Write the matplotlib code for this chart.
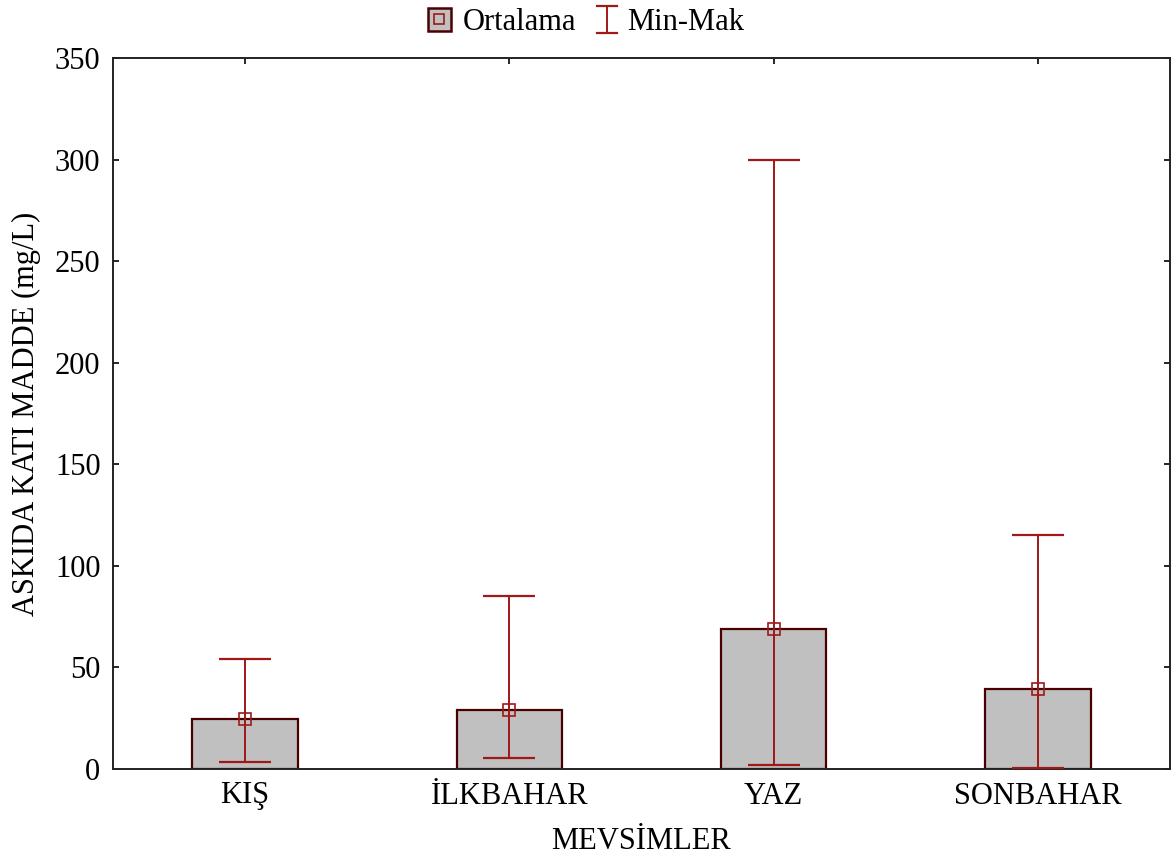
import matplotlib
matplotlib.use("Agg")
import matplotlib.pyplot as plt
from matplotlib.patches import Patch
from matplotlib.lines import Line2D
from matplotlib.legend_handler import HandlerBase

categories = ["KIŞ", "İLKBAHAR", "YAZ", "SONBAHAR"]
means = [24.5, 29.1, 68.8, 39.5]
mins = [3.5, 5.5, 2.0, 0.5]
maxs = [54.0, 85.0, 300.0, 115.0]
yticks = [0, 50, 100, 150, 200, 250, 300, 350]

plt.rcParams['font.family'] = ['Liberation Serif', 'DejaVu Serif']

fig = plt.figure(figsize=(11.76, 8.66), dpi=100)
ax = fig.add_axes([113/1176, 97/866, 1057/1176, 711/866])

x = list(range(len(categories)))
bar_face = "#c0c0c0"
bar_edge = "#4a0000"
err_col = "#a01818"

ax.bar(x, means, width=0.4, color=bar_face, edgecolor=bar_edge, linewidth=1.6, zorder=2)
lower = [m - lo for m, lo in zip(means, mins)]
upper = [hi - m for m, hi in zip(means, maxs)]
ax.errorbar(x, means, yerr=[lower, upper], fmt='none', ecolor=err_col,
            elinewidth=1.4, capsize=18.7, capthick=1.6, zorder=3)
ax.plot(x, means, linestyle='none', marker='s', markersize=8,
        markerfacecolor='none', markeredgecolor=err_col, markeredgewidth=1.2, zorder=4)

ax.set_xlim(-0.5, 3.5)
ax.set_ylim(0, 350)
ax.set_xticks(x)
ax.set_xticklabels(categories)
ax.set_yticks(yticks)
ax.tick_params(direction='in', length=4, width=1.2, labelsize=22, pad=9,
               top=True, right=True)
for s in ax.spines.values():
    s.set_linewidth(1.4)
    s.set_color("#222222")

ax.set_xlabel("MEVSİMLER", fontsize=22, labelpad=12)
ax.set_ylabel("ASKIDA KATI MADDE (mg/L)", fontsize=22, labelpad=10)


class IBeamHandler(HandlerBase):
    def create_artists(self, legend, orig_handle, xdescent, ydescent, width, height,
                       fontsize, trans):
        cx = width / 2 - xdescent + 3
        cy = height / 2 - ydescent
        half_h = 0.45 * fontsize
        half_w = 0.32 * fontsize
        v = Line2D([cx, cx], [cy - half_h, cy + half_h], color=err_col, lw=1.4, transform=trans)
        t = Line2D([cx - half_w, cx + half_w], [cy + half_h] * 2, color=err_col, lw=1.6, transform=trans)
        b = Line2D([cx - half_w, cx + half_w], [cy - half_h] * 2, color=err_col, lw=1.6, transform=trans)
        return [v, t, b]


ibeam = Line2D([], [], color=err_col)
h1 = (Patch(facecolor=bar_face, edgecolor=bar_edge, linewidth=1.8),
      Line2D([], [], linestyle='none', marker='s', markersize=7,
             markerfacecolor='none', markeredgecolor=err_col, markeredgewidth=1.2))
fig.legend([h1, ibeam], ["Ortalama", "Min-Mak"], loc='center', bbox_to_anchor=(0.498, 0.974),
           ncol=2, frameon=False, fontsize=22, handlelength=0.75, handleheight=0.75,
           handletextpad=0.4, columnspacing=0.5,
           handler_map={ibeam: IBeamHandler()})

fig.savefig("out.png", dpi=100)
